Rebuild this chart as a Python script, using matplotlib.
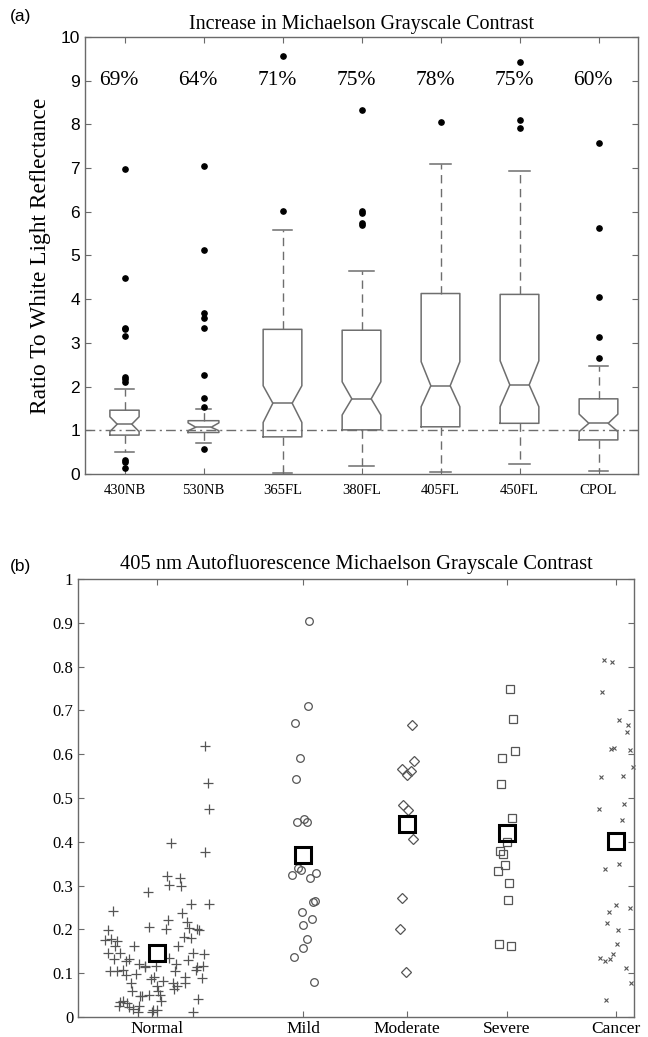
import matplotlib
matplotlib.use("Agg")
import matplotlib.pyplot as plt

SERIF = "Liberation Serif"
SANS = "Liberation Sans"

# ---------------- (a) data ----------------
box_labels = ['430NB', '530NB', '365FL', '380FL', '405FL', '450FL', 'CPOL']
box_q1 = [0.89, 0.95, 0.85, 1.01, 1.08, 1.16, 0.78]
box_med = [1.14, 1.07, 1.62, 1.72, 2.02, 2.04, 1.16]
box_q3 = [1.46, 1.22, 3.31, 3.29, 4.13, 4.11, 1.72]
box_whislo = [0.50, 0.70, 0.03, 0.19, 0.04, 0.24, 0.07]
box_whishi = [1.94, 1.49, 5.58, 4.65, 7.10, 6.94, 2.47]
box_cilo = [0.97, 0.99, 1.18, 1.35, 1.54, 1.54, 0.97]
box_cihi = [1.31, 1.17, 2.02, 2.11, 2.57, 2.59, 1.37]
fliers_430NB = [6.98, 4.48, 3.35, 3.31, 3.16, 2.22, 2.18, 2.10, 0.31, 0.27, 0.14]
fliers_530NB = [7.05, 5.12, 3.68, 3.56, 3.35, 2.26, 1.75, 1.54, 0.57]
fliers_365FL = [9.57, 6.02]
fliers_380FL = [8.33, 6.02, 5.97, 5.74, 5.69]
fliers_405FL = [8.05]
fliers_450FL = [9.43, 8.09, 7.92]
fliers_CPOL = [7.58, 5.64, 4.06, 3.13, 2.65]
percent_labels = ['69%', '64%', '71%', '75%', '78%', '75%', '60%']

# ---------------- (b) data ----------------
cat_labels = ['Normal', 'Mild', 'Moderate', 'Severe', 'Cancer']
cat_pos = [0.793, 2.253, 3.287, 4.287, 5.377]
cat_means = [0.145, 0.370, 0.441, 0.421, 0.401]

normal_y = [0.618, 0.535, 0.475, 0.398, 0.376, 0.321, 0.317, 0.301, 0.298, 0.286,
            0.258, 0.258, 0.241, 0.237, 0.221, 0.206, 0.217, 0.202, 0.198, 0.202,
            0.204, 0.198, 0.183, 0.181, 0.176, 0.177, 0.174, 0.162, 0.161, 0.162,
            0.145, 0.146, 0.145, 0.144, 0.135, 0.133, 0.132, 0.131, 0.128, 0.122,
            0.122, 0.117, 0.117, 0.116, 0.114, 0.114, 0.105, 0.108, 0.106, 0.104,
            0.107, 0.097, 0.099, 0.092, 0.092, 0.089, 0.086, 0.083, 0.078, 0.078,
            0.077, 0.070, 0.070, 0.065, 0.059, 0.060, 0.050, 0.051, 0.048, 0.047,
            0.036, 0.041, 0.037, 0.034, 0.033, 0.024, 0.023, 0.025, 0.018, 0.017,
            0.017, 0.011, 0.011, 0.012]
normal_dx = [0.479, 0.503, 0.513, 0.132, 0.472, 0.098, 0.226, 0.115, 0.240, -0.098,
             0.334, 0.520, -0.442, 0.250, 0.105, -0.084, 0.300, 0.084, -0.489, 0.398,
             0.314, 0.418, 0.263, 0.341, -0.526, -0.459, -0.408, 0.206, -0.233, -0.425,
             -0.496, -0.374, 0.354, 0.466, 0.115, -0.435, -0.287, 0.304, -0.314, 0.186,
             -0.186, -0.125, 0.455, -0.013, -0.125, 0.401, -0.476, -0.347, 0.179, -0.408,
             0.385, -0.310, -0.213, 0.277, -0.037, 0.445, -0.064, 0.061, -0.260, 0.152,
             0.280, 0.000, 0.192, 0.165, -0.253, 0.010, 0.027, -0.084, -0.152, -0.172,
             0.040, 0.405, -0.347, -0.374, -0.300, -0.388, -0.287, -0.179, -0.246, -0.044,
             0.000, -0.196, -0.057, 0.361]

mild_y = [0.905, 0.710, 0.672, 0.591, 0.543, 0.446, 0.453, 0.446, 0.341, 0.336, 0.324,
          0.318, 0.328, 0.263, 0.264, 0.240, 0.223, 0.211, 0.179, 0.158, 0.137, 0.079]
mild_dx = [0.057, 0.050, -0.084, -0.034, -0.071, -0.067, 0.010, 0.040, -0.050, -0.027, -0.110,
           0.067, 0.128, 0.094, 0.115, -0.017, 0.088, -0.007, 0.034, 0.000, -0.094, 0.105]

moderate_y = [0.666, 0.585, 0.567, 0.562, 0.552, 0.483, 0.473, 0.407, 0.271, 0.201, 0.102]
moderate_dx = [0.050, 0.074, -0.050, 0.040, 0.000, -0.034, 0.010, 0.060, -0.044, -0.064, -0.010]

severe_y = [0.748, 0.680, 0.607, 0.592, 0.533, 0.455, 0.400, 0.380, 0.373, 0.346,
            0.334, 0.306, 0.266, 0.166, 0.162]
severe_dx = [0.034, 0.061, 0.078, -0.050, -0.057, 0.054, 0.003, -0.067, -0.034, -0.013,
             -0.084, 0.020, 0.010, -0.074, 0.044]

cancer_y = [0.815, 0.810, 0.742, 0.677, 0.666, 0.651, 0.611, 0.615, 0.609, 0.571,
            0.548, 0.551, 0.487, 0.475, 0.450, 0.350, 0.337, 0.255, 0.240, 0.250,
            0.214, 0.199, 0.166, 0.144, 0.135, 0.127, 0.132, 0.111, 0.077, 0.039]
cancer_dx = [-0.121, -0.040, -0.142, 0.030, 0.121, 0.115, -0.047, -0.020, 0.138, 0.172,
             -0.148, 0.071, 0.081, -0.169, 0.064, 0.037, -0.111, 0.000, -0.064, 0.145,
             -0.084, 0.024, 0.010, -0.027, -0.159, -0.108, -0.057, 0.101, 0.148, -0.098]

# ---------------- styling ----------------
W, H = 648, 1037
fig = plt.figure(figsize=(W / 100, H / 100), dpi=100)
fig.patch.set_facecolor('white')
GRAY = '#6e6e6e'
AXC = '#6a6a6a'
MK = '#555555'


def frac(l, t, r, b):
    return [l / W, 1 - b / H, (r - l) / W, (b - t) / H]


def style_axes(ax):
    for s in ax.spines.values():
        s.set_color(AXC)
        s.set_linewidth(1.0)
    ax.tick_params(direction='in', top=True, right=True, length=4.5, width=0.8, color=AXC,
                   labelcolor='black')

# ---------------- (a) ----------------
ax1 = fig.add_axes(frac(85, 37, 638, 474))
positions = list(range(1, len(box_labels) + 1))
all_fliers = [fliers_430NB, fliers_530NB, fliers_365FL, fliers_380FL, fliers_405FL,
              fliers_450FL, fliers_CPOL]
stats = []
for i in range(len(box_labels)):
    stats.append(dict(med=box_med[i], q1=box_q1[i], q3=box_q3[i], whislo=box_whislo[i],
                      whishi=box_whishi[i], cilo=box_cilo[i], cihi=box_cihi[i],
                      fliers=all_fliers[i], label=box_labels[i]))
box_widths = [0.37, 0.39, 0.49, 0.49, 0.49, 0.49, 0.49]
cap_widths = [0.23, 0.20, 0.25, 0.31, 0.26, 0.26, 0.24]
ax1.axhline(1.0, color=GRAY, lw=1.0, linestyle=(0, (7, 3, 1.5, 3)), zorder=1)
ax1.bxp(stats, positions=positions, widths=box_widths, capwidths=cap_widths,
        shownotches=True, manage_ticks=False,
        boxprops=dict(color=GRAY, lw=1.1),
        whiskerprops=dict(color=GRAY, lw=1.0, linestyle=(0, (6, 4))),
        capprops=dict(color=GRAY, lw=1.1),
        medianprops=dict(color=GRAY, lw=1.1),
        flierprops=dict(marker='o', markerfacecolor='black', markeredgecolor='black',
                        markersize=3.8, linestyle='none'))
ax1.set_xlim(0.5, 7.5)
ax1.set_ylim(0, 10)
ax1.set_xticks(positions)
ax1.set_xticklabels(box_labels, family=SERIF, fontsize=10.5)
ax1.set_yticks(range(0, 11))
ax1.set_yticklabels([str(v) for v in range(0, 11)], family=SANS, fontsize=12.5)
style_axes(ax1)
ax1.tick_params(axis='x', pad=7)
for p, t in zip(positions, percent_labels):
    ax1.text(p - 0.07, 9.0, t, ha='center', va='center', family=SERIF, fontsize=15.5)
ax1.set_title('Increase in Michaelson Grayscale Contrast', family=SERIF, fontsize=14.5, pad=6)
ax1.set_ylabel('Ratio To White Light Reflectance', family=SERIF, fontsize=16.8, labelpad=7)
fig.text(10 / W, 1 - 17 / H, '(a)', family=SANS, fontsize=12.5, va='center', ha='left')

# ---------------- (b) ----------------
ax2 = fig.add_axes(frac(78, 579, 634, 1017))
groups = [
    (normal_y, normal_dx, dict(marker='+', markersize=7.5, mew=0.9, mec=MK, mfc='none')),
    (mild_y, mild_dx, dict(marker='o', markersize=5.5, mew=0.9, mec=MK, mfc='none')),
    (moderate_y, moderate_dx, dict(marker='D', markersize=4.6, mew=0.9, mec=MK, mfc='none')),
    (severe_y, severe_dx, dict(marker='s', markersize=5.5, mew=0.9, mec=MK, mfc='none')),
    (cancer_y, cancer_dx, dict(marker='x', markersize=3.4, mew=0.8, mec=MK, mfc='none')),
]
for (ys, dxs, kw), c in zip(groups, cat_pos):
    ax2.plot([c + d for d in dxs], ys, linestyle='none', clip_on=False, **kw)
ax2.plot(cat_pos, cat_means, linestyle='none', marker='s', markersize=11.5, mew=2.2,
         mec='black', mfc='none', zorder=5)
ax2.set_xlim(0, 5.56)
ax2.set_ylim(0, 1)
ax2.set_xticks(cat_pos)
ax2.set_xticklabels(cat_labels, family=SERIF, fontsize=12.5)
yt = [i / 10 for i in range(11)]
ax2.set_yticks(yt)
ax2.set_yticklabels(['0'] + ['%.1f' % v for v in yt[1:-1]] + ['1'], family=SERIF, fontsize=12)
style_axes(ax2)
ax2.tick_params(axis='x', pad=3)
ax2.set_title('405 nm Autofluorescence Michaelson Grayscale Contrast', family=SERIF,
              fontsize=14.8, pad=7)
fig.text(10 / W, 1 - 566 / H, '(b)', family=SANS, fontsize=12.5, va='center', ha='left')

fig.savefig('out.png', dpi=100, facecolor='white')
